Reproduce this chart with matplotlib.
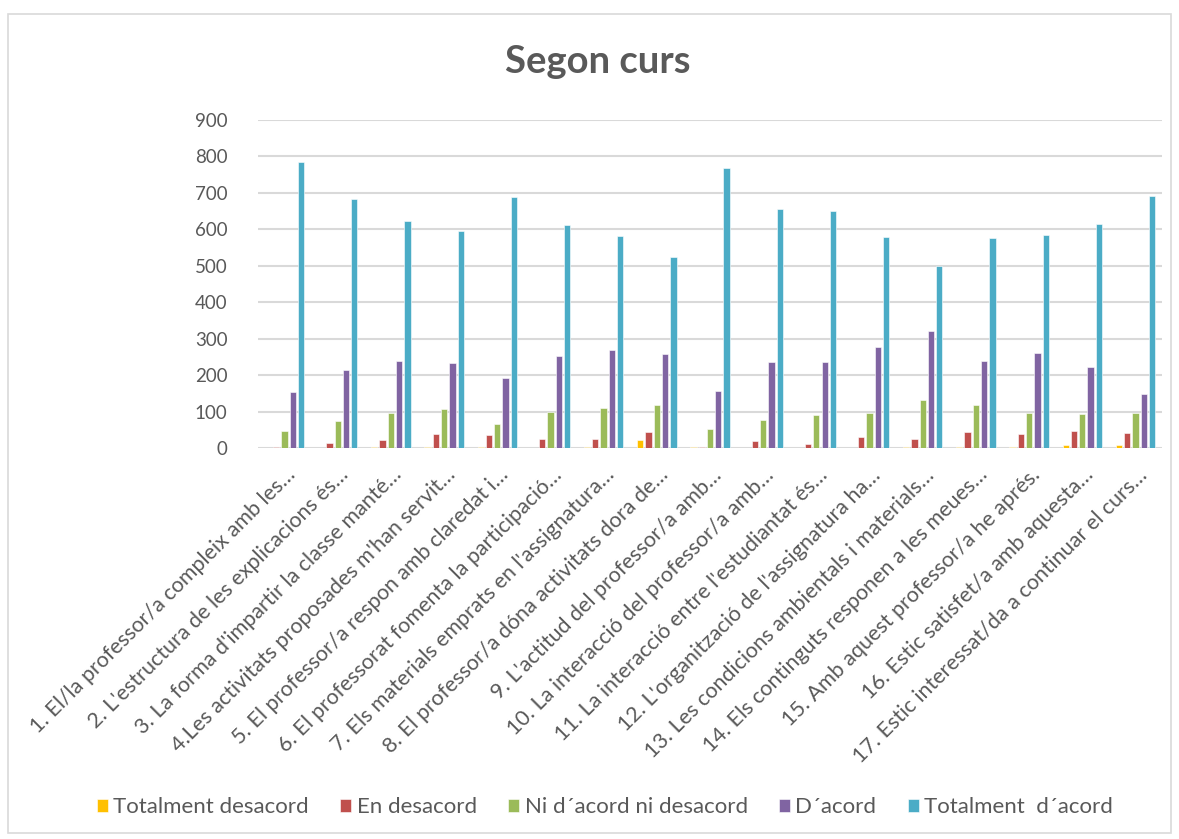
import numpy as np
import matplotlib
matplotlib.use("Agg")
import matplotlib.pyplot as plt
import matplotlib.transforms as mtransforms
from matplotlib.patches import Rectangle

plt.rcParams['font.family'] = ['Lato', 'DejaVu Sans']

# Chart data
questions = [
    "1. El/la professor/a compleix amb les…",
    "2. L'estructura de les explicacions és…",
    "3. La forma d'impartir la classe manté…",
    "4.Les activitats proposades m'han servit…",
    "5. El professor/a respon amb claredat i…",
    "6. El professorat fomenta la participació…",
    "7. Els materials emprats en l'assignatura…",
    "8. El professor/a dóna activitats dora de…",
    "9. L'actitud del professor/a amb…",
    "10. La interacció del professor/a amb…",
    "11. La interacció entre l'estudiantat és…",
    "12. L'organització de l'assignatura ha…",
    "13. Les condicions ambientals i materials…",
    "14. Els continguts responen a les meues…",
    "15. Amb aquest professor/a he aprés.",
    "16. Estic satisfet/a amb aquesta…",
    "17. Estic interessat/da a continuar el curs…",
]
series_names = ["Totalment desacord", "En desacord", "Ni d´acord ni desacord",
                "D´acord", "Totalment  d´acord"]
totalment_desacord = [0, 0, 4, 4, 4, 0, 3, 21, 3, 0, 0, 0, 3, 4, 3, 7, 9]
en_desacord = [4, 15, 23, 38, 35, 26, 26, 44, 4, 20, 12, 31, 26, 44, 38, 46, 42]
ni_acord = [46, 74, 96, 108, 67, 100, 109, 119, 52, 77, 91, 97, 133, 119, 96, 94, 95]
acord = [154, 215, 239, 232, 192, 253, 269, 257, 156, 235, 235, 277, 322, 240, 262, 221, 147]
totalment_acord = [786, 684, 623, 595, 688, 611, 582, 523, 769, 656, 649, 578, 500, 576, 585, 614, 691]

colors = ["#FFC000", "#C0504D", "#9BBB59", "#8064A2", "#4BACC6"]
all_series = [totalment_desacord, en_desacord, ni_acord, acord, totalment_acord]

fig = plt.figure(figsize=(11.79, 8.39), dpi=100)
ax = fig.add_axes([0.2188, 0.466, 0.7668, 0.391])

# outer chart border
fig.patches.append(Rectangle((0.007, 0.007), 0.986, 0.976, transform=fig.transFigure,
                             fill=False, edgecolor="#D9D9D9", linewidth=1.2))

x = np.arange(len(questions))
step = 0.156
width = 0.118
for i, (vals, col, name) in enumerate(zip(all_series, colors, series_names)):
    ax.bar(x + (i - 2) * step, vals, width, color=col, edgecolor="white",
           linewidth=0.4, label=name, zorder=3)

ax.set_xlim(-0.5, len(questions) - 0.5)
ax.set_ylim(0, 900)
ax.set_yticks(range(0, 901, 100))
ax.yaxis.grid(True, color="#D9D9D9", linewidth=1.5, zorder=0)
ax.set_axisbelow(True)
for s in ax.spines.values():
    s.set_visible(False)
ax.tick_params(axis="y", length=0, pad=22, labelsize=13.5, labelcolor="#595959")
ax.tick_params(axis="x", length=0, pad=10, labelsize=15.5, labelcolor="#595959")
ax.set_xticks(x)
ax.set_xticklabels(questions, rotation=45, ha="right", va="center",
                   rotation_mode="anchor")
shift = mtransforms.ScaledTranslation(0.08, -0.10, fig.dpi_scale_trans)
for lbl in ax.get_xticklabels():
    lbl.set_transform(lbl.get_transform() + shift)

fig.text(0.507, 0.926, "Segon curs", ha="center", va="center",
         fontsize=27.5, fontweight="bold", color="#595959")

leg = fig.legend(loc="center", bbox_to_anchor=(0.513, 0.038), ncol=5, frameon=False,
                 fontsize=16, handlelength=0.5, handleheight=0.5,
                 handletextpad=0.25, columnspacing=1.4)
for t in leg.get_texts():
    t.set_color("#595959")

fig.savefig("out.png", dpi=100)
